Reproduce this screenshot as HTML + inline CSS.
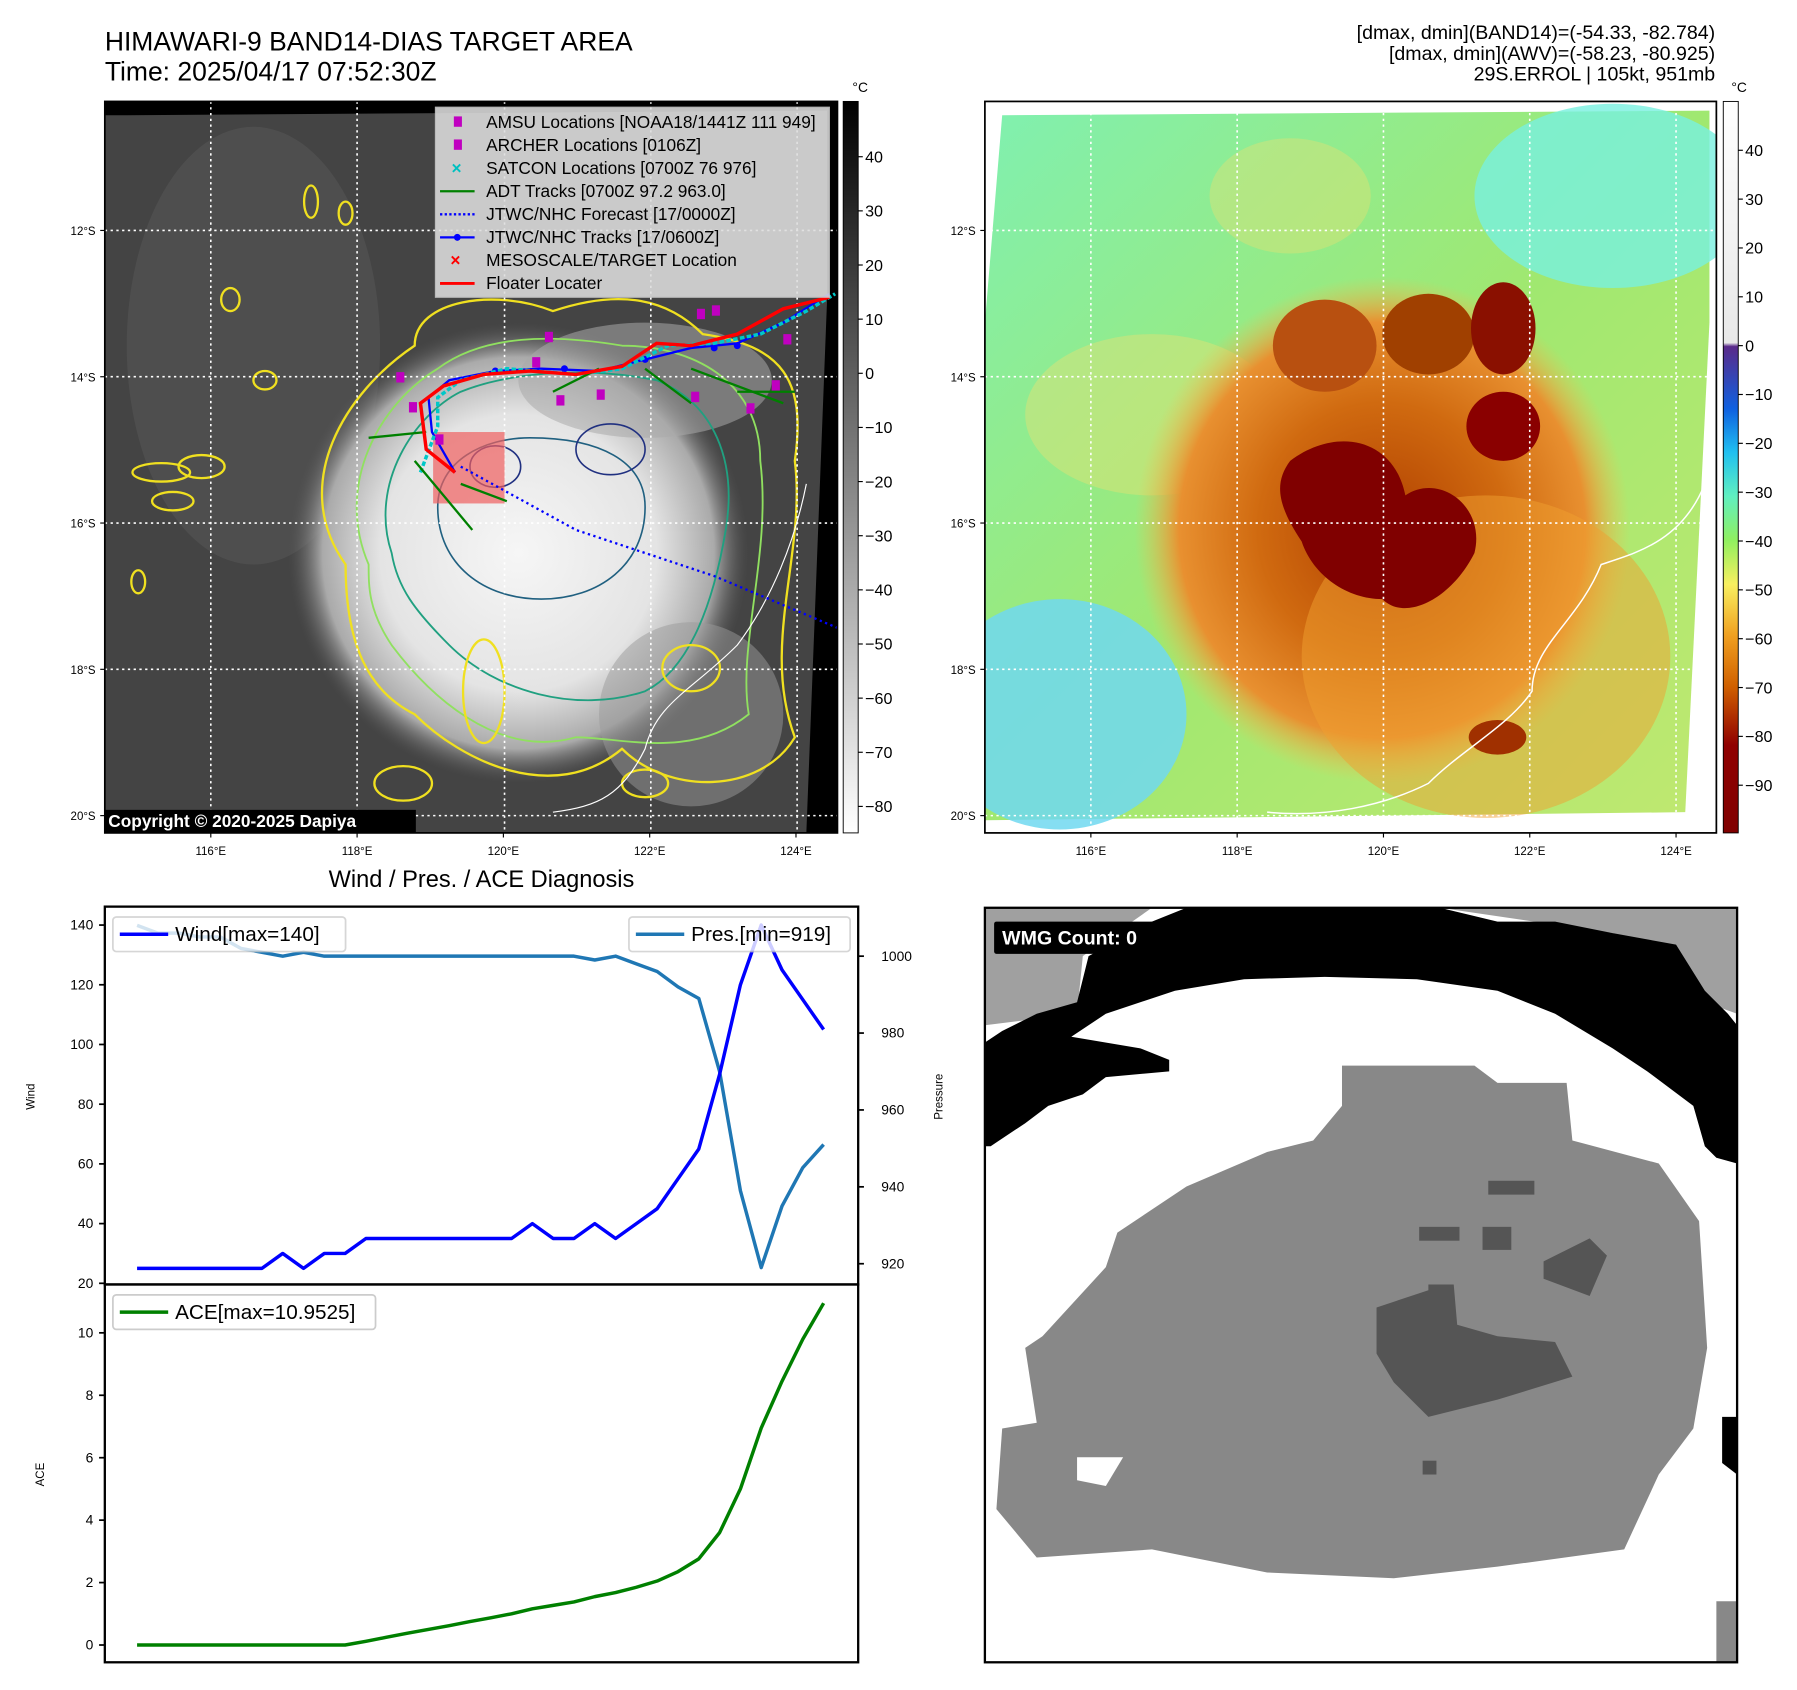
<!DOCTYPE html>
<html><head><meta charset="utf-8"><style>
html,body{margin:0;padding:0;background:#fff;}
svg{display:block;font-family:"Liberation Sans","DejaVu Sans",sans-serif;}
</style></head><body>
<svg id="fig" width="1797" height="1690" viewBox="0 0 1560 1467" xmlns="http://www.w3.org/2000/svg">
<defs>
<linearGradient id="gcb" x1="0" y1="0" x2="0" y2="1"><stop offset="0" stop-color="#000"/><stop offset="1" stop-color="#fff"/></linearGradient>
<linearGradient id="ccb" x1="0" y1="0" x2="0" y2="1">
<stop offset="0" stop-color="#fff"/><stop offset="0.33" stop-color="#e8e8e8"/><stop offset="0.335" stop-color="#5a2a8a"/>
<stop offset="0.42" stop-color="#1060e0"/><stop offset="0.48" stop-color="#20c0f0"/><stop offset="0.54" stop-color="#60f0c0"/>
<stop offset="0.6" stop-color="#90f060"/><stop offset="0.66" stop-color="#f8f060"/><stop offset="0.73" stop-color="#f0a020"/>
<stop offset="0.8" stop-color="#d06000"/><stop offset="0.88" stop-color="#900000"/><stop offset="1" stop-color="#800000"/></linearGradient>
<radialGradient id="cloud" cx="0.5" cy="0.5" r="0.5"><stop offset="0" stop-color="#f6f6f6"/><stop offset="0.6" stop-color="#e4e4e4"/><stop offset="0.85" stop-color="#aaa"/><stop offset="1" stop-color="#555" stop-opacity="0"/></radialGradient>
<radialGradient id="storm" cx="0.5" cy="0.5" r="0.5"><stop offset="0" stop-color="#b04000"/><stop offset="0.5" stop-color="#d06a10"/><stop offset="0.82" stop-color="#e89030"/><stop offset="1" stop-color="#f0c050" stop-opacity="0"/></radialGradient>
<linearGradient id="envbg" x1="0" y1="0" x2="1" y2="1"><stop offset="0" stop-color="#80f0b0"/><stop offset="0.5" stop-color="#a0e870"/><stop offset="1" stop-color="#c0e870"/></linearGradient>
<clipPath id="clipL"><rect x="91" y="88" width="636" height="635"/></clipPath>
<clipPath id="clipR"><rect x="855" y="88" width="635" height="635"/></clipPath>
<clipPath id="clipW"><rect x="855" y="788" width="653" height="655"/></clipPath>
</defs>

<text x="91" y="44" font-size="23">HIMAWARI-9 BAND14-DIAS TARGET AREA</text>
<text x="91" y="70" font-size="23">Time: 2025/04/17 07:52:30Z</text>
<g font-size="17" text-anchor="end">
<text x="1489" y="34">[dmax, dmin](BAND14)=(-54.33, -82.784)</text>
<text x="1489" y="52">[dmax, dmin](AWV)=(-58.23, -80.925)</text>
<text x="1489" y="70">29S.ERROL | 105kt, 951mb</text></g>

<!-- LEFT MAP -->
<g clip-path="url(#clipL)">
<rect x="91" y="88" width="636" height="635" fill="#000"/>
<polygon points="102,100 718,96 718,260 700,723 91,723 91,100" fill="#444"/>
<ellipse cx="220" cy="300" rx="110" ry="190" fill="#555" opacity="0.6"/>
<ellipse cx="450" cy="480" rx="200" ry="200" fill="url(#cloud)"/>
<ellipse cx="600" cy="620" rx="80" ry="80" fill="#999" opacity="0.5"/>
<ellipse cx="560" cy="330" rx="110" ry="50" fill="#aaa" opacity="0.55"/>
<path d="M300,490 C250,420 300,340 360,300 C360,260 430,250 480,270 C540,250 580,260 610,290 C680,300 700,330 690,400 C700,480 660,560 690,640 C660,690 580,690 540,650 C480,700 400,660 360,620 C320,600 300,560 300,490Z" fill="none" stroke="#f0e020" stroke-width="2"/>
<path d="M320,490 C290,420 330,350 380,320 C420,290 480,290 540,300 C600,300 660,330 660,400 C670,480 640,560 650,620 C600,660 540,640 500,640 C430,660 370,600 340,560 C320,530 320,510 320,490Z" fill="none" stroke="#90e060" stroke-width="1.6"/>
<path d="M340,480 C320,420 360,360 400,340 C450,320 520,320 570,330 C620,350 640,400 630,460 C620,520 600,580 560,600 C500,620 430,600 390,560 C360,530 345,510 340,480Z" fill="none" stroke="#20a080" stroke-width="1.6"/>
<path d="M380,440 C380,400 420,380 460,380 C520,380 560,400 560,440 C560,490 520,520 470,520 C420,520 380,490 380,440Z" fill="none" stroke="#206080" stroke-width="1.4"/>
<ellipse cx="530" cy="390" rx="30" ry="22" fill="none" stroke="#203080" stroke-width="1.4"/>
<ellipse cx="430" cy="405" rx="22" ry="18" fill="none" stroke="#203080" stroke-width="1.4"/>
<g fill="none" stroke="#f0e020" stroke-width="2">
<ellipse cx="140" cy="410" rx="25" ry="8"/><ellipse cx="175" cy="405" rx="20" ry="10"/><ellipse cx="150" cy="435" rx="18" ry="8"/>
<ellipse cx="270" cy="175" rx="6" ry="14"/><ellipse cx="300" cy="185" rx="6" ry="10"/><ellipse cx="200" cy="260" rx="8" ry="10"/>
<ellipse cx="230" cy="330" rx="10" ry="8"/><ellipse cx="420" cy="600" rx="18" ry="45"/><ellipse cx="600" cy="580" rx="25" ry="20"/>
<ellipse cx="120" cy="505" rx="6" ry="10"/><ellipse cx="350" cy="680" rx="25" ry="15"/><ellipse cx="560" cy="680" rx="20" ry="12"/></g>
<path d="M700,420 C690,470 670,520 640,560 C600,600 570,610 560,650 C540,690 520,700 480,705" fill="none" stroke="#fff" stroke-width="1"/>
<g fill="none" stroke="#fff" stroke-width="1.4" stroke-dasharray="2,3">
<line x1="183" y1="88" x2="183" y2="723"/><line x1="310" y1="88" x2="310" y2="723"/><line x1="438" y1="88" x2="438" y2="723"/><line x1="565" y1="88" x2="565" y2="723"/><line x1="692" y1="88" x2="692" y2="723"/>
<line x1="91" y1="200" x2="727" y2="200"/><line x1="91" y1="327" x2="727" y2="327"/><line x1="91" y1="454" x2="727" y2="454"/><line x1="91" y1="581" x2="727" y2="581"/><line x1="91" y1="708" x2="727" y2="708"/></g>
<rect x="376" y="375" width="62" height="62" fill="#f06060" opacity="0.7"/>
<polyline points="400,405 500,460 620,500 727,545" fill="none" stroke="#0000ff" stroke-width="2" stroke-dasharray="2,3"/>
<polyline points="395,410 375,375 372,345 390,330 430,322 470,320 520,322 560,312 600,302 640,298 680,280 720,255" fill="none" stroke="#0000ff" stroke-width="2"/>
<g fill="#0000ff"><circle cx="430" cy="322" r="3"/><circle cx="490" cy="320" r="3"/><circle cx="560" cy="312" r="3"/><circle cx="620" cy="302" r="3"/><circle cx="640" cy="300" r="3"/></g>
<polyline points="365,410 380,370 380,345 400,330 440,320 500,325 540,320 580,300 620,298 660,290 700,270 725,255" fill="none" stroke="#00c8c8" stroke-width="3" stroke-dasharray="4,2"/>
<g stroke="#008000" stroke-width="2"><line x1="320" y1="380" x2="370" y2="375"/><line x1="360" y1="400" x2="410" y2="460"/><line x1="400" y1="420" x2="440" y2="435"/><line x1="480" y1="340" x2="520" y2="320"/><line x1="560" y1="320" x2="600" y2="350"/><line x1="600" y1="320" x2="680" y2="350"/><line x1="640" y1="340" x2="690" y2="340"/></g>
<polyline points="395,410 370,390 365,350 385,335 420,325 460,322 500,325 540,318 570,298 600,300 640,290 680,268 720,258" fill="none" stroke="#ff0000" stroke-width="3"/>
<g fill="#c000c0"><rect x="344" y="323" width="7" height="9"/><rect x="355" y="349" width="7" height="9"/><rect x="378" y="377" width="7" height="9"/><rect x="473" y="288" width="7" height="9"/><rect x="462" y="310" width="7" height="9"/><rect x="518" y="338" width="7" height="9"/><rect x="600" y="340" width="7" height="9"/><rect x="605" y="268" width="7" height="9"/><rect x="618" y="265" width="7" height="9"/><rect x="680" y="290" width="7" height="9"/><rect x="670" y="330" width="7" height="9"/><rect x="648" y="350" width="7" height="9"/><rect x="483" y="343" width="7" height="9"/></g>
<rect x="378" y="93" width="342" height="165" fill="#ddd" opacity="0.88" stroke="#ccc"/>
<g font-size="15" fill="#000">
<rect x="394" y="101" width="7" height="9" fill="#c000c0"/><text x="422" y="111">AMSU Locations [NOAA18/1441Z 111 949]</text>
<rect x="394" y="121" width="7" height="9" fill="#c000c0"/><text x="422" y="131">ARCHER Locations [0106Z]</text>
<text x="392" y="151" fill="#00c0c0" font-weight="bold">×</text><text x="422" y="151">SATCON Locations [0700Z 76 976]</text>
<line x1="382" y1="166" x2="412" y2="166" stroke="#008000" stroke-width="2"/><text x="422" y="171">ADT Tracks [0700Z 97.2 963.0]</text>
<line x1="382" y1="186" x2="412" y2="186" stroke="#0000ff" stroke-width="2" stroke-dasharray="2,2"/><text x="422" y="191">JTWC/NHC Forecast [17/0000Z]</text>
<line x1="382" y1="206" x2="412" y2="206" stroke="#0000ff" stroke-width="2"/><circle cx="397" cy="206" r="3" fill="#0000ff"/><text x="422" y="211">JTWC/NHC Tracks [17/0600Z]</text>
<text x="391" y="231" fill="#ff0000" font-weight="bold">×</text><text x="422" y="231">MESOSCALE/TARGET Location</text>
<line x1="382" y1="246" x2="412" y2="246" stroke="#ff0000" stroke-width="2.5"/><text x="422" y="251">Floater Locater</text></g>
<rect x="91" y="703" width="270" height="20" fill="#000"/>
<text x="94" y="718" font-size="15" font-weight="bold" fill="#fff">Copyright © 2020-2025 Dapiya</text>
</g>
<rect x="91" y="88" width="636" height="635" fill="none" stroke="#000" stroke-width="1.5"/>
<rect x="732" y="88" width="13" height="635" fill="url(#gcb)" stroke="#000" stroke-width="0.8"/>
<text x="740" y="80" font-size="12">°C</text>

<!-- RIGHT MAP -->
<g clip-path="url(#clipR)">
<rect x="855" y="88" width="635" height="635" fill="#fff"/>
<polygon points="870,100 1484,96 1484,280 1463,705 855,712 855,280" fill="url(#envbg)"/>
<ellipse cx="920" cy="620" rx="110" ry="100" fill="#70d8f0" opacity="0.85"/>
<ellipse cx="1400" cy="170" rx="120" ry="80" fill="#78f0e0" opacity="0.8"/>
<ellipse cx="1120" cy="170" rx="70" ry="50" fill="#e8e070" opacity="0.4"/>
<ellipse cx="1000" cy="360" rx="110" ry="70" fill="#f0e070" opacity="0.4"/>
<ellipse cx="1200" cy="460" rx="215" ry="220" fill="url(#storm)"/>
<ellipse cx="1290" cy="570" rx="160" ry="140" fill="#f0a030" opacity="0.5"/>
<ellipse cx="1150" cy="300" rx="45" ry="40" fill="#b85010"/>
<ellipse cx="1240" cy="290" rx="40" ry="35" fill="#a04000"/>
<ellipse cx="1305" cy="285" rx="28" ry="40" fill="#8a1000"/>
<ellipse cx="1305" cy="370" rx="32" ry="30" fill="#8a0000"/>
<path d="M1120,400 C1160,370 1210,380 1220,430 C1250,410 1290,440 1280,480 C1260,520 1220,540 1200,520 C1170,520 1140,500 1130,470 C1110,440 1105,420 1120,400Z" fill="#800000"/>
<ellipse cx="1300" cy="640" rx="25" ry="15" fill="#a03000"/>
<path d="M1480,420 C1460,470 1420,480 1390,490 C1370,540 1330,560 1330,600 C1310,630 1270,650 1240,680 C1200,700 1150,710 1100,705" fill="none" stroke="#fff" stroke-width="1.3"/>
<g fill="none" stroke="#fff" stroke-width="1.4" stroke-dasharray="2,3">
<line x1="947" y1="88" x2="947" y2="723"/><line x1="1074" y1="88" x2="1074" y2="723"/><line x1="1201" y1="88" x2="1201" y2="723"/><line x1="1328" y1="88" x2="1328" y2="723"/><line x1="1455" y1="88" x2="1455" y2="723"/>
<line x1="855" y1="200" x2="1490" y2="200"/><line x1="855" y1="327" x2="1490" y2="327"/><line x1="855" y1="454" x2="1490" y2="454"/><line x1="855" y1="581" x2="1490" y2="581"/><line x1="855" y1="708" x2="1490" y2="708"/></g>
</g>
<rect x="855" y="88" width="635" height="635" fill="none" stroke="#000" stroke-width="1.5"/>
<rect x="1496" y="88" width="13" height="635" fill="url(#ccb)" stroke="#000" stroke-width="0.8"/>
<text x="1503" y="80" font-size="12">°C</text>

<g id="mapticks" font-size="10"></g>

<!-- WMG -->
<g clip-path="url(#clipW)">
<rect x="855" y="788" width="653" height="655" fill="#fff"/>
<polygon points="855,788 1000,788 940,830 935,880 855,890" fill="#a0a0a0"/>
<polygon points="1250,788 1508,788 1508,880 1480,870 1460,830 1400,810" fill="#a0a0a0"/>
<path d="M855,905 L870,895 900,880 935,870 945,830 1000,800 1030,788 1250,788 1300,800 1350,800 1400,810 1455,820 1480,860 1500,880 1508,890 L1508,1010 1490,1005 1480,995 1470,960 1430,930 1400,910 1350,880 1300,860 1230,850 1150,848 1080,850 1020,860 960,880 930,900 990,910 1015,920 1015,930 960,935 940,950 910,960 890,975 860,995 855,995Z" fill="#000"/>
<polygon points="1495,1230 1508,1230 1508,1280 1495,1270" fill="#000"/>
<polygon points="1490,1390 1508,1390 1508,1443 1490,1443" fill="#888"/>
<path d="M1165,925 L1280,925 1300,940 1360,940 1365,990 1440,1010 1475,1060 1482,1170 1470,1240 1440,1280 1410,1345 1300,1360 1210,1370 1100,1365 1000,1345 900,1352 865,1310 870,1240 900,1235 890,1170 905,1160 960,1100 970,1070 1030,1030 1100,1000 1140,990 1165,960Z" fill="#888"/>
<polygon points="935,1265 975,1265 960,1290 935,1285" fill="#fff"/>
<path d="M1195,1135 L1240,1120 1240,1115 1262,1115 1265,1150 1300,1160 1350,1165 1365,1195 1300,1215 1240,1230 1210,1200 1195,1175Z" fill="#555"/>
<polygon points="1340,1095 1380,1075 1395,1090 1380,1125 1340,1110" fill="#555"/>
<rect x="1292" y="1025" width="40" height="12" fill="#555"/>
<rect x="1232" y="1065" width="35" height="12" fill="#555"/>
<rect x="1287" y="1065" width="25" height="20" fill="#555"/>
<rect x="1235" y="1268" width="12" height="12" fill="#555"/>
<rect x="863" y="800" width="162" height="28" fill="#000" rx="2"/>
<text x="870" y="820" font-size="17" font-weight="bold" fill="#fff">WMG Count: 0</text>
</g>
<rect x="855" y="788" width="653" height="655" fill="none" stroke="#000" stroke-width="2"/>

<!-- DIAGNOSIS CHART -->
<text x="418" y="770" font-size="20.5" text-anchor="middle">Wind / Pres. / ACE Diagnosis</text>
<g id="chart"></g>
<rect x="91" y="787" width="654" height="328" fill="none" stroke="#000" stroke-width="2"/>
<rect x="91" y="1115" width="654" height="328" fill="none" stroke="#000" stroke-width="2"/>
<text x="30" y="952" font-size="10" transform="rotate(-90 30 952)" text-anchor="middle">Wind</text>
<text x="818" y="952" font-size="10" transform="rotate(-90 818 952)" text-anchor="middle">Pressure</text>
<text x="38" y="1280" font-size="10" transform="rotate(-90 38 1280)" text-anchor="middle">ACE</text>
<g><rect x="98" y="796" width="202" height="30" fill="#fff" opacity="0.8" stroke="#ccc" stroke-width="1.5" rx="3"/>
<line x1="104" y1="811" x2="146" y2="811" stroke="#0000ff" stroke-width="3"/><text x="152" y="817" font-size="18">Wind[max=140]</text></g>
<g><rect x="546" y="796" width="192" height="30" fill="#fff" opacity="0.8" stroke="#ccc" stroke-width="1.5" rx="3"/>
<line x1="552" y1="811" x2="594" y2="811" stroke="#1f77b4" stroke-width="3"/><text x="600" y="817" font-size="18">Pres.[min=919]</text></g>
<g><rect x="98" y="1124" width="228" height="30" fill="#fff" stroke="#ccc" stroke-width="1.5" rx="3"/>
<line x1="104" y1="1139" x2="146" y2="1139" stroke="#008000" stroke-width="3"/><text x="152" y="1145" font-size="18">ACE[max=10.9525]</text></g>
</svg>
<script>
const windValues=[25,25,25,25,25,25,25,30,25,30,30,35,35,35,35,35,35,35,35,40,35,35,40,35,40,45,55,65,90,120,140,125,115,105];
const presValues=[1008,1006,1006,1005,1005,1002,1001,1000,1001,1000,1000,1000,1000,1000,1000,1000,1000,1000,1000,1000,1000,1000,999,1000,998,996,992,989,970,939,919,935,945,951];
const aceValues=[0,0,0,0,0,0,0,0,0,0,0,0.12,0.25,0.38,0.5,0.62,0.75,0.87,1.0,1.16,1.27,1.38,1.55,1.68,1.85,2.05,2.35,2.76,3.6,5.0,6.95,8.45,9.8,10.95];
const windTicks=[20,40,60,80,100,120,140];
const presTicks=[920,940,960,980,1000];
const aceTicks=[0,2,4,6,8,10];
const latLabels=['12°S','14°S','16°S','18°S','20°S'];
const lonLabels=['116°E','118°E','120°E','122°E','124°E'];
const cbLeftTicks=[40,30,20,10,0,-10,-20,-30,-40,-50,-60,-70,-80];
const cbRightTicks=[40,30,20,10,0,-10,-20,-30,-40,-50,-60,-70,-80,-90];
const NS='http://www.w3.org/2000/svg';
function xS(i){return 119+i*(715-119)/(windValues.length-1);}
function yW(v){return 1114-(v-20)*311/120;}
function yP(p){return 1097-(p-920)*267/80;}
function yA(a){return 1428-a*27.1;}
function mk(tag,attrs,parent,txt){const e=document.createElementNS(NS,tag);for(const k in attrs)e.setAttribute(k,attrs[k]);if(txt!==undefined)e.textContent=txt;parent.appendChild(e);return e;}
const chart=document.getElementById('chart');
function line(vals,yf,color,name){
  const p=mk('polyline',{points:vals.map((v,i)=>xS(i)+','+yf(v)).join(' '),fill:'none',stroke:color,'stroke-width':3,'stroke-linejoin':'round'},chart);
  
  
}
line(presValues,yP,'#1f77b4','pressure-line');
line(windValues,yW,'#0000ff','wind-line');
line(aceValues,yA,'#008000','ace-line');
windTicks.forEach(v=>{const y=yW(v);mk('line',{x1:86,y1:y,x2:91,y2:y,stroke:'#000','stroke-width':1.5},chart);
  const t=mk('text',{x:81,y:y+4,'font-size':12,'text-anchor':'end'},chart,v);});
presTicks.forEach(v=>{const y=yP(v);mk('line',{x1:745,y1:y,x2:750,y2:y,stroke:'#000','stroke-width':1.5},chart);
  const t=mk('text',{x:765,y:y+4,'font-size':12},chart,v);});
aceTicks.forEach(v=>{const y=yA(v);mk('line',{x1:86,y1:y,x2:91,y2:y,stroke:'#000','stroke-width':1.5},chart);
  const t=mk('text',{x:81,y:y+4,'font-size':12,'text-anchor':'end'},chart,v);});
const mt=document.getElementById('mapticks');
latLabels.forEach((l,i)=>{const y=200+i*127;
  [91,855].forEach(x0=>{mk('line',{x1:x0-4,y1:y,x2:x0,y2:y,stroke:'#000'},mt);
  const t=mk('text',{x:x0-8,y:y+4,'text-anchor':'end'},mt,l);});});
lonLabels.forEach((l,i)=>{[183,947].forEach(x0=>{const x=x0+i*127;mk('line',{x1:x,y1:723,x2:x,y2:727,stroke:'#000'},mt);
  const t=mk('text',{x:x,y:742,'text-anchor':'middle'},mt,l);});});
cbLeftTicks.forEach(v=>{const y=324-v*4.7;mk('line',{x1:745,y1:y,x2:749,y2:y,stroke:'#000'},mt);
  const t=mk('text',{x:751,y:y+5,'font-size':14},mt,v===0?'0':(v<0?'−'+(-v):v));});
cbRightTicks.forEach(v=>{const y=300-v*4.24;mk('line',{x1:1509,y1:y,x2:1513,y2:y,stroke:'#000'},mt);
  const t=mk('text',{x:1515,y:y+5,'font-size':14},mt,v===0?'0':(v<0?'−'+(-v):v));});
</script>
</body></html>
